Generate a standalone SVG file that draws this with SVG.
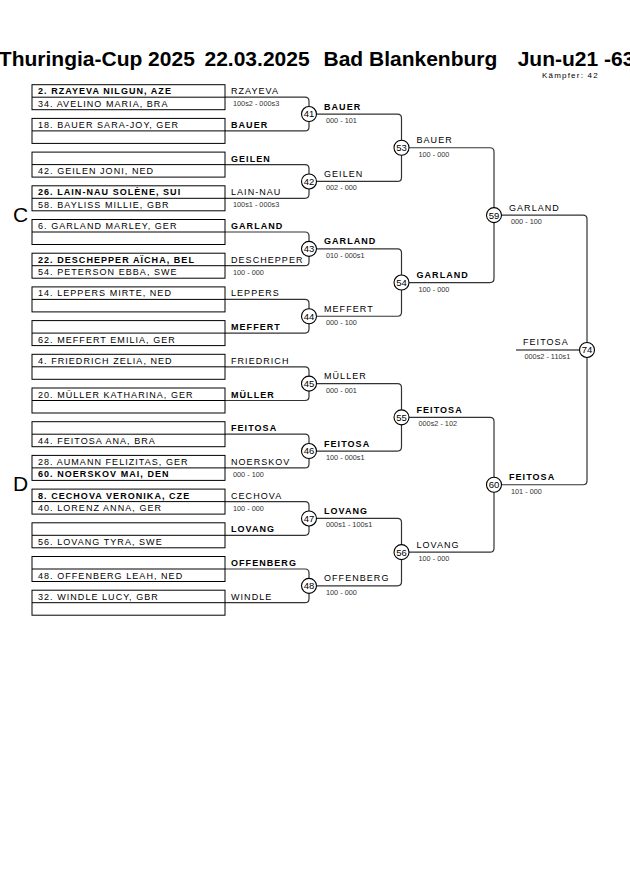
<svg xmlns="http://www.w3.org/2000/svg" width="630" height="891" viewBox="0 0 630 891">
<style>
text{font-family:"Liberation Sans",Arial,sans-serif;fill:#000}
.title{font-size:21px;font-weight:bold}
.kf{font-size:8px;letter-spacing:1.2px}
.sec{font-size:21px}
.box{fill:none;stroke:#000;stroke-width:1}
.nm{font-size:9px;letter-spacing:1.05px}
.b{font-weight:bold}
.sc{font-size:7.3px;fill:#333}
.ci{fill:#fff;stroke:#000;stroke-width:1.1}
.cn{font-size:9.5px;text-anchor:middle}
.con{fill:none;stroke:#333;stroke-width:1.2}
.fin{fill:none;stroke:#555;stroke-width:1.6}
</style>
<rect width="630" height="891" fill="#fff"/>
<g id="header">
<text class="title" y="66"><tspan x="-1.2">Thuringia-Cup 2025</tspan><tspan x="204.5">22.03.2025</tspan><tspan x="323.5">Bad Blankenburg</tspan><tspan x="517.7">Jun-u21 -63</tspan></text>
<text class="kf" x="542" y="77.7">Kämpfer: 42</text>
<text class="sec" x="13" y="221.5">C</text>
<text class="sec" x="13" y="490.5">D</text>
</g>
<g id="connectors">
<path class="con" d="M225 97.2 H305 Q309 97.2 309 101.2 V126.9 Q309 130.9 305 130.9 H225"/>
<path class="con" d="M225 164.6 H305 Q309 164.6 309 168.6 V194.3 Q309 198.3 305 198.3 H225"/>
<path class="con" d="M225 232 H305 Q309 232 309 236 V261.7 Q309 265.7 305 265.7 H225"/>
<path class="con" d="M225 299.4 H305 Q309 299.4 309 303.4 V329.1 Q309 333.1 305 333.1 H225"/>
<path class="con" d="M225 366.8 H305 Q309 366.8 309 370.8 V396.5 Q309 400.5 305 400.5 H225"/>
<path class="con" d="M225 434.2 H305 Q309 434.2 309 438.2 V463.9 Q309 467.9 305 467.9 H225"/>
<path class="con" d="M225 501.6 H305 Q309 501.6 309 505.6 V531.3 Q309 535.3 305 535.3 H225"/>
<path class="con" d="M225 569 H305 Q309 569 309 573 V598.7 Q309 602.7 305 602.7 H225"/>
<path class="con" d="M309 114.05 H397.5 Q401.5 114.05 401.5 118.05 V177.45 Q401.5 181.45 397.5 181.45 H309"/>
<path class="con" d="M309 248.85 H397.5 Q401.5 248.85 401.5 252.85 V312.25 Q401.5 316.25 397.5 316.25 H309"/>
<path class="con" d="M309 383.65 H397.5 Q401.5 383.65 401.5 387.65 V447.05 Q401.5 451.05 397.5 451.05 H309"/>
<path class="con" d="M309 518.45 H397.5 Q401.5 518.45 401.5 522.45 V581.85 Q401.5 585.85 397.5 585.85 H309"/>
<path class="con" d="M401.5 147.75 H490 Q494 147.75 494 151.75 V278.55 Q494 282.55 490 282.55 H401.5"/>
<path class="con" d="M401.5 417.35 H490 Q494 417.35 494 421.35 V548.15 Q494 552.15 490 552.15 H401.5"/>
<path class="con" d="M494 215.15 H583 Q587 215.15 587 219.15 V480.75 Q587 484.75 583 484.75 H494"/>
<path class="fin" d="M516 349.95 H580"/>
</g>
<g id="entry-1"><rect class="box" x="32" y="84.7" width="193" height="25"/><line class="box" x1="32" y1="97.2" x2="225" y2="97.2"/><text class="nm b" x="38" y="94.2">2. RZAYEVA NILGUN, AZE</text><text class="nm" x="38" y="106.7">34. AVELINO MARIA, BRA</text><text class="nm" x="231" y="94.2">RZAYEVA</text><text class="sc" x="233" y="106.2">100s2 - 000s3</text></g>
<g id="entry-2"><rect class="box" x="32" y="118.4" width="193" height="25"/><line class="box" x1="32" y1="130.9" x2="225" y2="130.9"/><text class="nm" x="38" y="127.9">18. BAUER SARA-JOY, GER</text><text class="nm b" x="231" y="127.9">BAUER</text></g>
<g id="entry-3"><rect class="box" x="32" y="152.1" width="193" height="25"/><line class="box" x1="32" y1="164.6" x2="225" y2="164.6"/><text class="nm" x="38" y="174.1">42. GEILEN JONI, NED</text><text class="nm b" x="231" y="161.6">GEILEN</text></g>
<g id="entry-4"><rect class="box" x="32" y="185.8" width="193" height="25"/><line class="box" x1="32" y1="198.3" x2="225" y2="198.3"/><text class="nm b" x="38" y="195.3">26. LAIN-NAU SOLÈNE, SUI</text><text class="nm" x="38" y="207.8">58. BAYLISS MILLIE, GBR</text><text class="nm" x="231" y="195.3">LAIN-NAU</text><text class="sc" x="233" y="207.3">100s1 - 000s3</text></g>
<g id="entry-5"><rect class="box" x="32" y="219.5" width="193" height="25"/><line class="box" x1="32" y1="232" x2="225" y2="232"/><text class="nm" x="38" y="229">6. GARLAND MARLEY, GER</text><text class="nm b" x="231" y="229">GARLAND</text></g>
<g id="entry-6"><rect class="box" x="32" y="253.2" width="193" height="25"/><line class="box" x1="32" y1="265.7" x2="225" y2="265.7"/><text class="nm b" x="38" y="262.7">22. DESCHEPPER AÏCHA, BEL</text><text class="nm" x="38" y="275.2">54. PETERSON EBBA, SWE</text><text class="nm" x="231" y="262.7">DESCHEPPER</text><text class="sc" x="233" y="274.7">100 - 000</text></g>
<g id="entry-7"><rect class="box" x="32" y="286.9" width="193" height="25"/><line class="box" x1="32" y1="299.4" x2="225" y2="299.4"/><text class="nm" x="38" y="296.4">14. LEPPERS MIRTE, NED</text><text class="nm" x="231" y="296.4">LEPPERS</text></g>
<g id="entry-8"><rect class="box" x="32" y="320.6" width="193" height="25"/><line class="box" x1="32" y1="333.1" x2="225" y2="333.1"/><text class="nm" x="38" y="342.6">62. MEFFERT EMILIA, GER</text><text class="nm b" x="231" y="330.1">MEFFERT</text></g>
<g id="entry-9"><rect class="box" x="32" y="354.3" width="193" height="25"/><line class="box" x1="32" y1="366.8" x2="225" y2="366.8"/><text class="nm" x="38" y="363.8">4. FRIEDRICH ZELIA, NED</text><text class="nm" x="231" y="363.8">FRIEDRICH</text></g>
<g id="entry-10"><rect class="box" x="32" y="388" width="193" height="25"/><line class="box" x1="32" y1="400.5" x2="225" y2="400.5"/><text class="nm" x="38" y="397.5">20. MÜLLER KATHARINA, GER</text><text class="nm b" x="231" y="397.5">MÜLLER</text></g>
<g id="entry-11"><rect class="box" x="32" y="421.7" width="193" height="25"/><line class="box" x1="32" y1="434.2" x2="225" y2="434.2"/><text class="nm" x="38" y="443.7">44. FEITOSA ANA, BRA</text><text class="nm b" x="231" y="431.2">FEITOSA</text></g>
<g id="entry-12"><rect class="box" x="32" y="455.4" width="193" height="25"/><line class="box" x1="32" y1="467.9" x2="225" y2="467.9"/><text class="nm" x="38" y="464.9">28. AUMANN FELIZITAS, GER</text><text class="nm b" x="38" y="477.4">60. NOERSKOV MAI, DEN</text><text class="nm" x="231" y="464.9">NOERSKOV</text><text class="sc" x="233" y="476.9">000 - 100</text></g>
<g id="entry-13"><rect class="box" x="32" y="489.1" width="193" height="25"/><line class="box" x1="32" y1="501.6" x2="225" y2="501.6"/><text class="nm b" x="38" y="498.6">8. CECHOVA VERONIKA, CZE</text><text class="nm" x="38" y="511.1">40. LORENZ ANNA, GER</text><text class="nm" x="231" y="498.6">CECHOVA</text><text class="sc" x="233" y="510.6">100 - 000</text></g>
<g id="entry-14"><rect class="box" x="32" y="522.8" width="193" height="25"/><line class="box" x1="32" y1="535.3" x2="225" y2="535.3"/><text class="nm" x="38" y="544.8">56. LOVANG TYRA, SWE</text><text class="nm b" x="231" y="532.3">LOVANG</text></g>
<g id="entry-15"><rect class="box" x="32" y="556.5" width="193" height="25"/><line class="box" x1="32" y1="569" x2="225" y2="569"/><text class="nm" x="38" y="578.5">48. OFFENBERG LEAH, NED</text><text class="nm b" x="231" y="566">OFFENBERG</text></g>
<g id="entry-16"><rect class="box" x="32" y="590.2" width="193" height="25"/><line class="box" x1="32" y1="602.7" x2="225" y2="602.7"/><text class="nm" x="38" y="599.7">32. WINDLE LUCY, GBR</text><text class="nm" x="231" y="599.7">WINDLE</text></g>
<g id="match-41"><circle class="ci" cx="309" cy="114.05" r="7.5"/><text class="cn" x="309" y="117.4">41</text><text class="nm b" x="324" y="109.55">BAUER</text><text class="sc" x="326" y="123.05">000 - 101</text></g>
<g id="match-42"><circle class="ci" cx="309" cy="181.45" r="7.5"/><text class="cn" x="309" y="184.8">42</text><text class="nm" x="324" y="176.95">GEILEN</text><text class="sc" x="326" y="190.45">002 - 000</text></g>
<g id="match-43"><circle class="ci" cx="309" cy="248.85" r="7.5"/><text class="cn" x="309" y="252.2">43</text><text class="nm b" x="324" y="244.35">GARLAND</text><text class="sc" x="326" y="257.85">010 - 000s1</text></g>
<g id="match-44"><circle class="ci" cx="309" cy="316.25" r="7.5"/><text class="cn" x="309" y="319.6">44</text><text class="nm" x="324" y="311.75">MEFFERT</text><text class="sc" x="326" y="325.25">000 - 100</text></g>
<g id="match-45"><circle class="ci" cx="309" cy="383.65" r="7.5"/><text class="cn" x="309" y="387">45</text><text class="nm" x="324" y="379.15">MÜLLER</text><text class="sc" x="326" y="392.65">000 - 001</text></g>
<g id="match-46"><circle class="ci" cx="309" cy="451.05" r="7.5"/><text class="cn" x="309" y="454.4">46</text><text class="nm b" x="324" y="446.55">FEITOSA</text><text class="sc" x="326" y="460.05">100 - 000s1</text></g>
<g id="match-47"><circle class="ci" cx="309" cy="518.45" r="7.5"/><text class="cn" x="309" y="521.8">47</text><text class="nm b" x="324" y="513.95">LOVANG</text><text class="sc" x="326" y="527.45">000s1 - 100s1</text></g>
<g id="match-48"><circle class="ci" cx="309" cy="585.85" r="7.5"/><text class="cn" x="309" y="589.2">48</text><text class="nm" x="324" y="581.35">OFFENBERG</text><text class="sc" x="326" y="594.85">100 - 000</text></g>
<g id="match-53"><circle class="ci" cx="401.5" cy="147.75" r="7.5"/><text class="cn" x="401.5" y="151.1">53</text><text class="nm" x="416.5" y="143.25">BAUER</text><text class="sc" x="418.5" y="156.75">100 - 000</text></g>
<g id="match-54"><circle class="ci" cx="401.5" cy="282.55" r="7.5"/><text class="cn" x="401.5" y="285.9">54</text><text class="nm b" x="416.5" y="278.05">GARLAND</text><text class="sc" x="418.5" y="291.55">100 - 000</text></g>
<g id="match-55"><circle class="ci" cx="401.5" cy="417.35" r="7.5"/><text class="cn" x="401.5" y="420.7">55</text><text class="nm b" x="416.5" y="412.85">FEITOSA</text><text class="sc" x="418.5" y="426.35">000s2 - 102</text></g>
<g id="match-56"><circle class="ci" cx="401.5" cy="552.15" r="7.5"/><text class="cn" x="401.5" y="555.5">56</text><text class="nm" x="416.5" y="547.65">LOVANG</text><text class="sc" x="418.5" y="561.15">100 - 000</text></g>
<g id="match-59"><circle class="ci" cx="494" cy="215.15" r="7.5"/><text class="cn" x="494" y="218.5">59</text><text class="nm" x="509" y="210.65">GARLAND</text><text class="sc" x="511" y="224.15">000 - 100</text></g>
<g id="match-60"><circle class="ci" cx="494" cy="484.75" r="7.5"/><text class="cn" x="494" y="488.1">60</text><text class="nm b" x="509" y="480.25">FEITOSA</text><text class="sc" x="511" y="493.75">101 - 000</text></g>
<g id="match-74"><circle class="ci" cx="587" cy="349.95" r="7.5"/><text class="cn" x="587" y="353.3">74</text><text class="nm" x="523" y="345.45">FEITOSA</text><text class="sc" x="524.5" y="358.95">000s2 - 110s1</text></g>
</svg>
